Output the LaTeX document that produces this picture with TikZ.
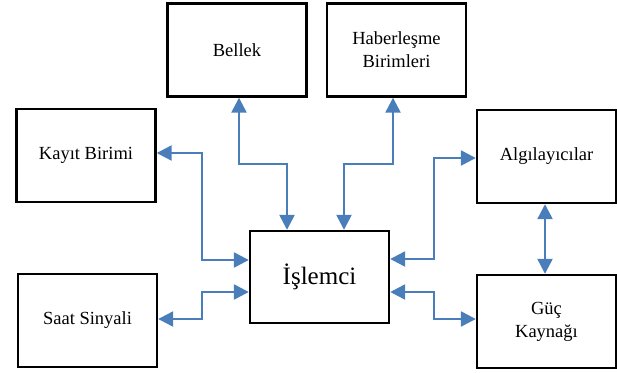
\documentclass[tikz,border=0pt]{standalone}
\usepackage{fontspec}
\setmainfont{Liberation Serif}
\usetikzlibrary{arrows.meta}
\definecolor{arrblue}{RGB}{74,126,187}
\tikzset{
  box/.style={draw=black, line width=2.4pt, minimum width=139pt, minimum height=93pt,
    inner sep=0pt, align=center, font=\fontsize{18.5}{23}\selectfont},
  biarr/.style={draw=arrblue, line width=2.4pt,
    {Triangle[length=15pt,width=15pt]}-{Triangle[length=15pt,width=15pt]}}
}
\begin{document}
\begin{tikzpicture}[x=1pt,y=-1pt]
\useasboundingbox (0,0) rectangle (617,372);
\node[box] (bel) at (237,50) {Bellek};
\node[box] (hab) at (396.5,50) {Haberleşme\\Birimleri};
\node[box] (kay) at (86,155.5) {Kayıt Birimi};
\node[box] (saa) at (87.5,320.5) {Saat Sinyali};
\node[box, minimum height=92pt, font=\fontsize{25}{30}\selectfont] (isl) at (319.5,277) {İşlemci};
\node[box] (alg) at (546.5,156.5) {Algılayıcılar};
\node[box] (guc) at (546.5,321.5) {Güç\\Kaynağı};

\draw[biarr] ([xshift=2pt]bel.south) |- ([xshift=-32.5pt,yshift=66pt]isl.north) -- ([xshift=-32.5pt]isl.north);
\draw[biarr] ([xshift=-3.5pt]hab.south) |- ([xshift=24.5pt,yshift=66pt]isl.north) -- ([xshift=24.5pt]isl.north);
\draw[biarr] ([yshift=2.5pt]kay.east) -| ([xshift=-47pt,yshift=17pt]isl.west) -- ([yshift=17pt]isl.west);
\draw[biarr] ([yshift=1.5pt]saa.east) -| ([xshift=-47pt,yshift=-15pt]isl.west) -- ([yshift=-15pt]isl.west);
\draw[biarr] ([yshift=-1.5pt]alg.west) -| ([xshift=44pt,yshift=18pt]isl.east) -- ([yshift=18pt]isl.east);
\draw[biarr] ([yshift=2.5pt]guc.west) -| ([xshift=44pt,yshift=-15pt]isl.east) -- ([yshift=-15pt]isl.east);
\draw[biarr] ([xshift=-1.5pt]alg.south) -- ([xshift=-1.5pt]guc.north);
\end{tikzpicture}
\end{document}
